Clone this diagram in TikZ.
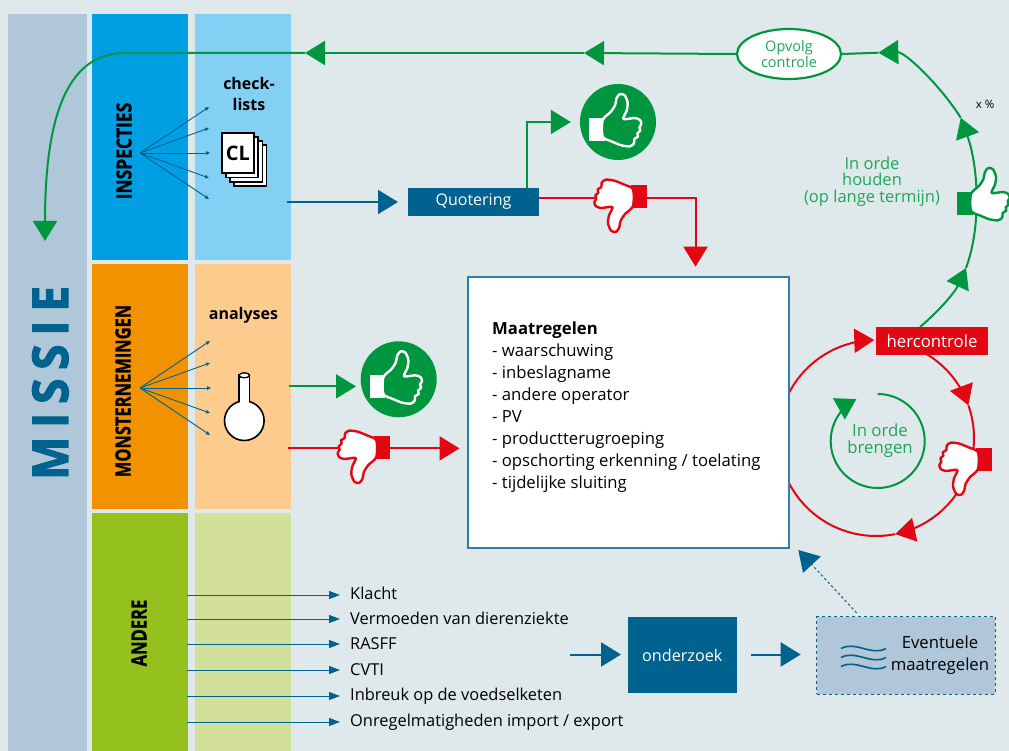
\documentclass[tikz,border=0pt]{standalone}
\usepackage{fontspec}
\setmainfont{Open Sans}
\usetikzlibrary{arrows.meta,shapes.geometric}
\definecolor{bgc}{HTML}{DFE8EB}
\definecolor{missiec}{HTML}{AFC7D8}
\definecolor{dblue}{HTML}{00628F}
\definecolor{grn}{HTML}{009640}
\definecolor{grntxt}{HTML}{1FA65A}
\definecolor{rd}{HTML}{E30613}
\definecolor{insA}{HTML}{009FE3}
\definecolor{insB}{HTML}{83D0F5}
\definecolor{monA}{HTML}{F39200}
\definecolor{monB}{HTML}{FDCB8E}
\definecolor{andA}{HTML}{95C11F}
\definecolor{andB}{HTML}{D2E09A}
\newcommand{\fs}[1]{\fontsize{#1}{#1}\selectfont}
\newcommand{\handpath}{plot[smooth cycle,tension=.45] coordinates {(-46,-6) (-22,-30) (-9,-50) (-4,-72) (6,-84) (20,-80) (29,-58) (26,-34) (16,-9) (50,-12) (66,-6) (70,6) (64,16) (67,26) (58,34) (60,44) (49,51) (48,64) (36,73) (10,70) (-20,58) (-46,44)}}
\newcommand{\thumbdraw}[6]{% x y rot cuff hand outline
  \begin{scope}[shift={(#1,#2)},rotate=#3,x=0.3333pt,y=-0.3333pt]
    \fill[#4] (-87,-13) rectangle (-40,57);
    \draw[fill=#5,draw=#6,line width=2.4pt,line join=round] \handpath;
  \end{scope}}
\tikzset{
  x=1pt,y=-1pt,
  block/.style={anchor=north west,inner sep=0pt,outer sep=0pt},
  lab/.style={inner sep=0pt,align=center,font=\fs{16}},
  rowlab/.style={inner sep=0pt,anchor=west,text height=12pt,text depth=4pt,font=\fs{16.4}},
  vert/.style={inner sep=0pt,rotate=90,font=\bfseries\fs{21}\addfontfeature{FakeBold=1}},
  bigtip/.tip={Triangle[length=20pt,width=24pt]},
  smalltip/.tip={Triangle[length=4pt,width=3.5pt]},
  gline/.style={draw=grn,line width=2pt,-{bigtip[fill=grn]}},
  gplain/.style={draw=grn,line width=2pt},
  rline/.style={draw=rd,line width=2pt,-{bigtip[fill=rd]}},
  rplain/.style={draw=rd,line width=2pt},
  bline/.style={draw=dblue,line width=2pt,-{bigtip[fill=dblue]}},
  fan/.style={draw=dblue,line width=.9pt,-{smalltip[fill=dblue]}},
  rowarrow/.style={draw=dblue,line width=1pt,-{Triangle[length=11pt,width=8pt,fill=dblue]}},
}
\begin{document}
\begin{tikzpicture}
\useasboundingbox (0,0) rectangle (1009,751);
\fill[bgc] (0,0) rectangle (1009,751);
% columns
\node[block,fill=missiec,minimum width=79pt,minimum height=737pt] (missie) at (8,14) {};
\node[block,fill=insA,minimum width=96pt,minimum height=246pt] (insp) at (92,14) {};
\node[block,fill=insB,minimum width=96pt,minimum height=246pt] (inspb) at (195,14) {};
\node[block,fill=monA,minimum width=96pt,minimum height=245pt] (mons) at (92,264) {};
\node[block,fill=monB,minimum width=96pt,minimum height=245pt] (monsb) at (195,264) {};
\node[block,fill=andA,minimum width=96pt,minimum height=238pt] (and) at (92,513) {};
\node[block,fill=andB,minimum width=96pt,minimum height=238pt] (andb) at (195,513) {};
\node[inner sep=0pt,rotate=90,text=dblue,font=\bfseries\fs{49.5}\addfontfeature{LetterSpace=19,FakeBold=2.5}] (missietxt) at (50.3,383) {\scalebox{.93}[1]{MISSIE}};
\node[vert] (insptxt) at (124,151) {\scalebox{.83}[1]{INSPECTIES}};
\node[vert] (monstxt) at (123,391) {\scalebox{.785}[1]{MONSTERNEMINGEN}};
\node[vert] (andtxt) at (139,633) {\scalebox{.79}[1]{ANDERE}};
% fans
\coordinate (fa) at (140,153);
\foreach \n/\px/\py in {a1/209/107,a2/209/128,a3/210/153,a4/209/178,a5/209/199}{
  \coordinate (\n) at (\px,\py); \draw[fan] (fa) -- (\n);}
\coordinate (fb) at (140,388);
\foreach \n/\px/\py in {b1/210/341,b2/210/363,b3/211/388,b4/210/413,b5/210/435}{
  \coordinate (\n) at (\px,\py); \draw[fan] (fb) -- (\n);}
% check-lists
\node[lab,font=\bfseries\fs{16}] (chk) at (249,94) {check-\\[5pt]lists};
\foreach \o in {12.6,8.4,4.2}{
  \draw[black,fill=white,line width=1.7pt] (221.7+\o,132.7+\o) rectangle +(32.3,40.6);}
\node[draw=black,fill=white,line width=1.7pt,inner sep=0pt,minimum width=32.3pt,minimum height=40.6pt,font=\bfseries\fs{20}] (cl) at (237.85,153) {CL};
\node[lab,font=\bfseries\fs{16}] (ana) at (243.5,315) {analyses};
% flask
\draw[black,fill=white,line width=1.6pt] (239,375) -- (239,403) -- (249.5,403) -- (249.5,375) -- cycle;
\draw[black,fill=white,line width=1.6pt] (244.3,420.7) circle (19.8);
\fill[white] (239.9,399) rectangle (248.6,405);
\draw[black,fill=white,line width=1.3pt] (244.3,375.3) ellipse (5.2 and 2.5);
% top green path
\node[ellipse,draw=grn,fill=white,line width=2.2pt,minimum width=104pt,minimum height=50pt,inner sep=0pt,text=grntxt,align=center,font=\fs{14.5}] (opvolg) at (789,54) {Opvolg\\[2pt]controle};
\coordinate (t1) at (584,53);
\coordinate (t2) at (305,53);
\coordinate (t3) at (45,241);
\draw[gline] (opvolg.west) -- (t1);
\draw[gline] (t1) -- (t2);
\draw[gline] (t2) -- (125,53) .. controls (75,53) and (45,100) .. (t3);
% hercontrole and green loop
\node[block,fill=rd,minimum width=112pt,minimum height=27.5pt,text=white,font=\fs{16.8}] (herc) at (876,327) {hercontrole};
\coordinate (g0) at (920,327);
\coordinate (g1) at (966,268);
\coordinate (g2) at (960.7,117.7);
\coordinate (g3) at (878.3,52.7);
\draw[gline] (g0) .. controls (940,310) and (955,292) .. (g1);
\draw[gline] (g1) .. controls (982,225) and (978,165) .. (g2);
\draw[gline] (g2) .. controls (940,85) and (905,52) .. (g3);
\draw[gplain] (g3) -- (opvolg.east);
\thumbdraw{986.3}{196}{0}{grn}{white}{grn}
\node[lab,text=grntxt,font=\fs{16.5}] (houden) at (872,181.5) {In orde\\[0pt]houden\\[0pt](op lange termijn)};
\node[lab,font=\fs{11.5}] (pct) at (985,104) {x \%};
% red circle
\draw[rline] plot[domain=206:269,samples=30] ({876+98*cos(\x)},{438+98*sin(\x)});
\draw[rline] plot[domain=300.6:340.5,samples=20] ({876+98*cos(\x)},{438+98*sin(\x)});
\draw[rline] plot[domain=340.5:438.7,samples=40] ({876+98*cos(\x)},{438+98*sin(\x)});
\draw[rplain] plot[domain=78.7:154,samples=30] ({876+98*cos(\x)},{438+98*sin(\x)});
\thumbdraw{962.7}{467}{180}{rd}{white}{rd}
% inner green circle
\draw[gline] plot[domain=270:603,samples=80] ({877.7+47*cos(\x)},{441+47*sin(\x)});
\node[lab,text=grntxt,font=\fs{16.8}] (brengen) at (880,440.5) {In orde\\[0pt]brengen};
% main box
\node[block,draw={rgb,255:red,47;green,127;blue,168},fill=white,line width=1.2pt,minimum width=321pt,minimum height=271pt] (maat) at (468,277) {};
\node[inner sep=0pt,anchor=north west,align=left,font=\fontsize{16.7}{22}\selectfont] (maattxt) at (492,322) {\textbf{Maatregelen}\\- waarschuwing\\- inbeslagname\\- andere operator\\- PV\\- productterugroeping\\- opschorting erkenning / toelating\\- tijdelijke sluiting};
% quotering
\node[block,fill=dblue,minimum width=131pt,minimum height=28pt,text=white,font=\fs{16}] (quot) at (408,188) {Quotering};
\coordinate (qin) at (287,202);
\draw[bline] (qin) -- ([xshift=-10pt]quot.west);
\node[circle,fill=grn,minimum size=76pt,inner sep=0pt] (up1) at (618,122) {};
\thumbdraw{618}{122}{0}{white}{grn}{white}
\draw[gline] (526.7,188) |- ([xshift=-9pt]up1.west);
\coordinate (qr) at (695.5,266.7);
\draw[rline] (quot.east |- 0,197.7) -| (qr);
\thumbdraw{617.7}{204}{180}{rd}{white}{rd}
% analyses arrows
\node[circle,fill=grn,minimum size=76pt,inner sep=0pt] (up2) at (398.7,379.3) {};
\thumbdraw{398.7}{379.3}{0}{white}{grn}{white}
\coordinate (mg) at (289,386.4);
\draw[gline] (mg) -- (356,386.4);
\coordinate (mr) at (288,448.4);
\coordinate (mre) at (459.5,448.4);
\draw[rline] (mr) -- (mre);
\thumbdraw{361}{455}{180}{rd}{white}{rd}
% list
\foreach \n/\yy/\yt/\txt in {l1/595/595/{Klacht},l2/619/620/{Vermoeden van dierenziekte},l3/644/645/{RASFF},l4/670/671/{CVTI},l5/696/696/{Inbreuk op de voedselketen},l6/722/722/{Onregelmatigheden import / export}}{
  \node[rowlab] (\n) at (350,\yt) {\txt};
  \coordinate (\n s) at (187,\yy);
  \coordinate (\n e) at (340,\yy);
  \draw[rowarrow] (\n s) -- (\n e);
}
% onderzoek
\node[block,fill=dblue,minimum width=108.5pt,minimum height=76pt,text=white,font=\fs{16.2}] (ond) at (628,617) {onderzoek};
\coordinate (oin) at (570,654.5);
\draw[bline] (oin) -- ([xshift=-7pt,yshift=0pt]ond.west |- oin);
\node[block,fill=missiec,draw=dblue,dashed,line width=1pt,minimum width=178.3pt,minimum height=77.3pt] (event) at (816.7,616.7) {};
\draw[bline] ([xshift=14pt]ond.east |- oin) coordinate (oout) -- ([xshift=-16pt]event.west |- oin);
\foreach \yy in {648.5,657.5,666.5}{
  \draw[dblue,line width=1.6pt] (841,\yy) .. controls (856,\yy-8) and (871,\yy+8) .. (886,\yy);}
\node[lab,font=\fs{16.7}] (evtxt) at (940,655.5) {Eventuele\\[5pt]maatregelen};
\coordinate (et) at (798.3,550);
\draw[draw=dblue,line width=1pt,dash pattern=on 2.5pt off 2.5pt,-{Triangle[length=20pt,width=24pt,fill=dblue,sep=0pt]}] (856.7,613) -- (et);
\end{tikzpicture}
\end{document}
